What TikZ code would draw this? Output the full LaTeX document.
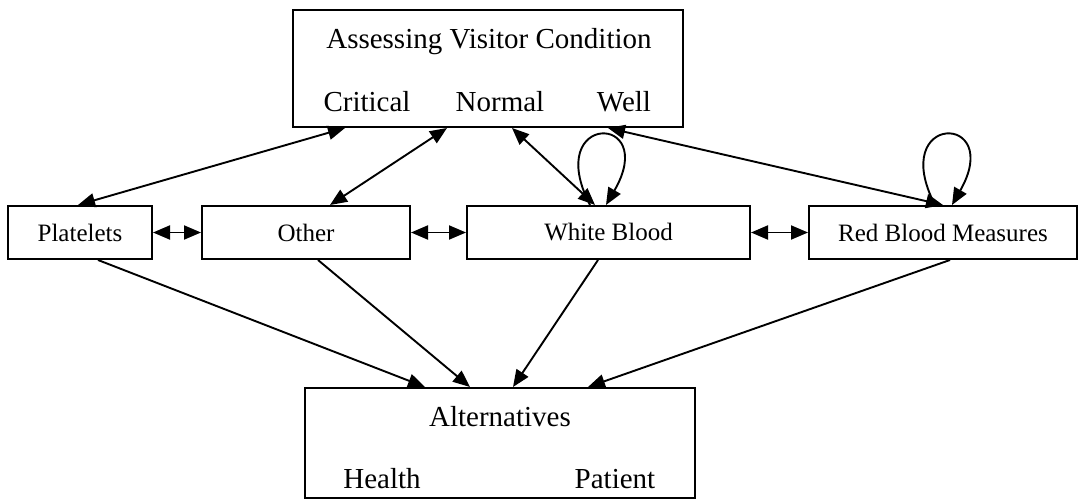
\documentclass[tikz,border=0pt]{standalone}
\usepackage{fontspec}
\setmainfont{Liberation Serif}
\usetikzlibrary{arrows.meta}
\begin{document}
\begin{tikzpicture}[x=1pt,y=-1pt,
  box/.style={draw,line width=2pt,inner sep=0pt,minimum height=53pt,font=\fontsize{25}{25}\selectfont},
  bigbox/.style={draw,line width=2pt,inner sep=0pt},
  big/.style={inner sep=0pt,anchor=base,font=\fontsize{29}{29}\selectfont},
  dbl/.style={line width=1.9pt,{Triangle[length=17pt,width=14pt]}-{Triangle[length=17pt,width=14pt]}},
  one/.style={line width=1.9pt,-{Triangle[length=17pt,width=14pt]}}]
\useasboundingbox (0,0) rectangle (1081,500);
% top box
\node[bigbox,minimum width=390pt,minimum height=117pt] (top) at (488,68.5) {};
\node[big] (title) at (489,49) {Assessing Visitor Condition};
\node[big] (crit) at (367,112) {Critical};
\node[big] (norm) at (500,112) {Normal};
\node[big] (well) at (624,112) {Well};
% middle boxes
\node[box,minimum width=144pt] (plat) at (80,232.5) {Platelets};
\node[box,minimum width=208pt] (other) at (306,232.5) {Other};
\node[box,minimum width=283pt] (white) at (608.5,232.5) {White Blood};
\node[box,minimum width=268pt] (red) at (943,232.5) {Red Blood Measures};
% bottom box
\node[bigbox,minimum width=390pt,minimum height=110pt] (alt) at (500,443) {};
\node[big] (altt) at (500,426) {Alternatives};
\node[big] (health) at (382,488) {Health};
\node[big] (pat) at (615,488) {Patient};
% top connections
\draw[dbl] (top.south -| 345,0) -- (plat.north -| 78,0);
\draw[dbl] (top.south -| 447,0) -- (other.north -| 330,0);
\draw[dbl] (top.south -| 512,0) -- (white.north -| 595,0);
\draw[dbl] (top.south -| 608,0) -- (red.north -| 943,0);
% self loops
\draw[one] (white.north -| 590,0) .. controls (542,112) and (660,112) .. (white.north -| 606,0);
\draw[one] (red.north -| 935,0) .. controls (887,112) and (1005,112) .. (red.north -| 952,0);
% horizontal
\draw[dbl] (plat.east) -- (other.west);
\draw[dbl] (other.east) -- (white.west);
\draw[dbl] (white.east) -- (red.west);
% bottom
\draw[one] (plat.south -| 98,0) -- (alt.north -| 425,0);
\draw[one] (other.south -| 318,0) -- (alt.north -| 470,0);
\draw[one] (white.south -| 598,0) -- (alt.north -| 513,0);
\draw[one] (red.south -| 950,0) -- (alt.north -| 588,0);
\end{tikzpicture}
\end{document}
